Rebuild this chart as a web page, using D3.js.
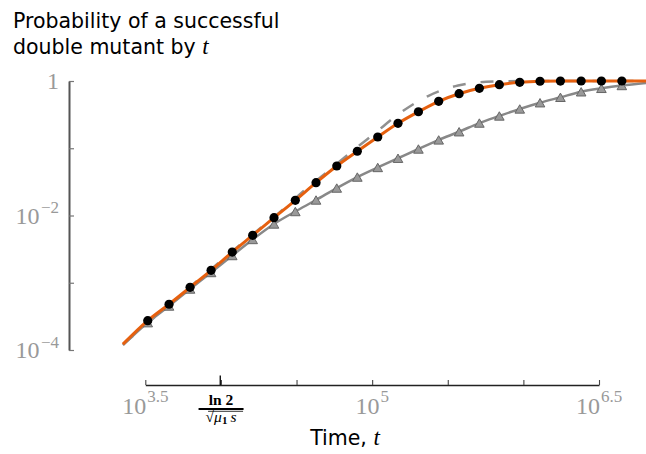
<!DOCTYPE html>
<html><head><meta charset="utf-8">
<script src="https://cdn.jsdelivr.net/npm/d3@7"></script>
<style>body{margin:0;background:#fff}svg{display:block}</style>
</head><body>
<svg id="chart" width="646" height="454"></svg>
<script>
// ---- data ----
const markerT = [3281, 4539, 6252, 8610, 11885, 16218, 22439, 31046, 42560, 58345, 79799, 108893,
  148252, 202302, 275423, 375837, 511682, 693426, 946237, 1288250, 1757924, 2409853, 3280953, 4477133];
const orangeP = [2.73e-4, 4.79e-4, 8.55e-4, 1.53e-3, 2.86e-3, 5.08e-3, 9.27e-3, 0.0168, 0.0308, 0.0545,
  0.0902, 0.147, 0.235, 0.349, 0.499, 0.647, 0.778, 0.881, 0.957, 0.991, 0.999, 1, 1, 1];
const grayP = [2.55e-4, 4.51e-4, 8.07e-4, 1.42e-3, 2.54e-3, 4.40e-3, 7.48e-3, 0.01146, 0.0170, 0.0256,
  0.0373, 0.0518, 0.0710, 0.0975, 0.133, 0.176, 0.237, 0.302, 0.384, 0.475, 0.572, 0.691, 0.778, 0.857];
const lineStartT = 2250, lineEndT = 6470000;
const orangeEnds = [1.22e-4, 1];
const grayEnds = [1.18e-4, 0.934];
const dashedT = [2262, 6247, 15577, 24603, 34650, 50305, 71417, 104520, 152930, 234260, 369950, 566800, 951200, 6471000];
const dashedP = [1.22e-4, 8.65e-4, 4.87e-3, 0.01128, 0.02235, 0.0444, 0.0850, 0.1686, 0.3343, 0.598, 0.857, 0.973, 0.998, 1];
const xTickExps = [3.5, 4, 4.5, 5, 5.5, 6, 6.5];
const xLabelExps = ["3.5", "5", "6.5"];
const yTickExps = [0, -1, -2, -3, -4];
const yLabelExps = [0, -2, -4];
const specialTickT = 9900; // ln2 / sqrt(mu1 s)

// ---- chart ----
const svg = d3.select("#chart");
const x = d3.scaleLog().domain([Math.pow(10, 3.5), Math.pow(10, 6.5)]).range([145.3, 599]);
const y = d3.scaleLog().domain([1e-4, 1]).range([350, 81]);

const serif = "'Liberation Serif', 'DejaVu Serif', serif";
const sans = "'DejaVu Sans', sans-serif";

// title
svg.append("text").attr("x", 13).attr("y", 28).attr("font-family", sans).attr("font-size", 20.5)
  .attr("fill", "#000").text("Probability of a successful");
const t2 = svg.append("text").attr("x", 13).attr("y", 53.5).attr("font-family", sans).attr("font-size", 20.5).attr("fill", "#000");
t2.append("tspan").text("double mutant by ");
t2.append("tspan").attr("font-family", serif).attr("font-style", "italic").attr("font-size", 23).text("t");

// y axis
const yAxis = d3.axisLeft(y).tickValues(yTickExps.map(e => Math.pow(10, e))).tickSizeInner(-5).tickSizeOuter(0).tickFormat("");
const gy = svg.append("g").attr("transform", "translate(69,0)").call(yAxis);
gy.select(".domain").attr("stroke", "#555").attr("stroke-width", 2);
gy.selectAll(".tick line").attr("stroke", "#777").attr("stroke-width", 1.2);

yLabelExps.forEach(e => {
  const tx = svg.append("text").attr("x", 59).attr("y", y(Math.pow(10, e)) + 8)
    .attr("text-anchor", "end").attr("font-family", serif).attr("font-size", 24).attr("fill", "#999");
  if (e === 0) { tx.text("1"); }
  else {
    tx.append("tspan").text("10");
    tx.append("tspan").attr("dy", -10.5).attr("dx", 1.5).attr("font-size", 17).text("\u2212" + Math.abs(e));
  }
});

// x axis
const xAxis = d3.axisBottom(x).tickValues(xTickExps.map(e => Math.pow(10, e))).tickSizeInner(-5).tickSizeOuter(0).tickFormat("");
const gx = svg.append("g").attr("transform", "translate(0,385)").call(xAxis);
gx.select(".domain").attr("stroke", "#222").attr("stroke-width", 1.3);
gx.selectAll(".tick line").attr("stroke", "#444").attr("stroke-width", 1.1);
svg.append("line").attr("x1", x(specialTickT)).attr("x2", x(specialTickT)).attr("y1", 375.5).attr("y2", 385)
  .attr("stroke", "#000").attr("stroke-width", 1.3);

xLabelExps.forEach(e => {
  const tx = svg.append("text").attr("x", x(Math.pow(10, +e))).attr("y", 413.5)
    .attr("text-anchor", "middle").attr("font-family", serif).attr("font-size", 24).attr("fill", "#999");
  tx.append("tspan").text("10");
  tx.append("tspan").attr("dy", -11.5).attr("dx", 1).attr("font-size", 17).text(e);
});

// ln2 / sqrt(mu1 s) label
const cx = x(specialTickT) + 0.8;
svg.append("text").attr("x", cx).attr("y", 405).attr("text-anchor", "middle").attr("font-family", serif)
  .attr("font-weight", "bold").attr("font-size", 15.5).attr("fill", "#000").text("ln 2");
svg.append("line").attr("x1", cx - 22.5).attr("x2", cx + 22.5).attr("y1", 409).attr("y2", 409)
  .attr("stroke", "#000").attr("stroke-width", 1.8);
const den = svg.append("text").attr("x", cx).attr("y", 421.5).attr("text-anchor", "middle").attr("font-family", serif)
  .attr("font-size", 15.5).attr("fill", "#000");
den.append("tspan").text("\u221A");
den.append("tspan").attr("font-style", "italic").text("\u03BC");
den.append("tspan").attr("font-size", 11).attr("dy", 2.5).attr("font-weight", "bold").text("1");
den.append("tspan").attr("font-style", "italic").attr("dy", -2.5).text("\u2009s");
svg.append("line").attr("x1", cx - 13).attr("x2", cx + 22).attr("y1", 411.3).attr("y2", 411.3)
  .attr("stroke", "#000").attr("stroke-width", 0.8);

// x axis title
const xt = svg.append("text").attr("x", 345).attr("y", 445).attr("text-anchor", "middle")
  .attr("font-family", sans).attr("font-size", 20.5).attr("fill", "#000");
xt.append("tspan").text("Time, ");
xt.append("tspan").attr("font-family", serif).attr("font-style", "italic").attr("font-size", 23).text("t");

// series
const grayLine = [[lineStartT, grayEnds[0]], ...markerT.map((t, i) => [t, grayP[i]]), [lineEndT, grayEnds[1]]];
const orangeLine = [[lineStartT, orangeEnds[0]], ...markerT.map((t, i) => [t, orangeP[i]]), [lineEndT, orangeEnds[1]]];
const dashedLine = dashedT.map((t, i) => [t, dashedP[i]]);

const line = d3.line().x(d => x(d[0])).y(d => y(d[1])).curve(d3.curveMonotoneX);

svg.append("path").datum(grayLine).attr("d", line).attr("fill", "none").attr("stroke", "#888").attr("stroke-width", 2.5);
svg.append("path").datum(dashedLine).attr("d", line).attr("fill", "none").attr("stroke", "#909090")
  .attr("stroke-width", 2.5).attr("stroke-dasharray", "13,15");

svg.append("g").selectAll("path").data(markerT.map((t, i) => [t, grayP[i]])).join("path")
  .attr("transform", d => `translate(${x(d[0])},${y(d[1])})`)
  .attr("d", "M0,-4.2L4.8,4.2L-4.8,4.2Z").attr("fill", "#999").attr("stroke", "#666").attr("stroke-width", 1);

svg.append("path").datum(orangeLine).attr("d", line).attr("fill", "none").attr("stroke", "#e6600f").attr("stroke-width", 3);

svg.append("g").selectAll("circle").data(markerT.map((t, i) => [t, orangeP[i]])).join("circle")
  .attr("cx", d => x(d[0])).attr("cy", d => y(d[1])).attr("r", 4.6).attr("fill", "#000");
</script>
</body></html>
